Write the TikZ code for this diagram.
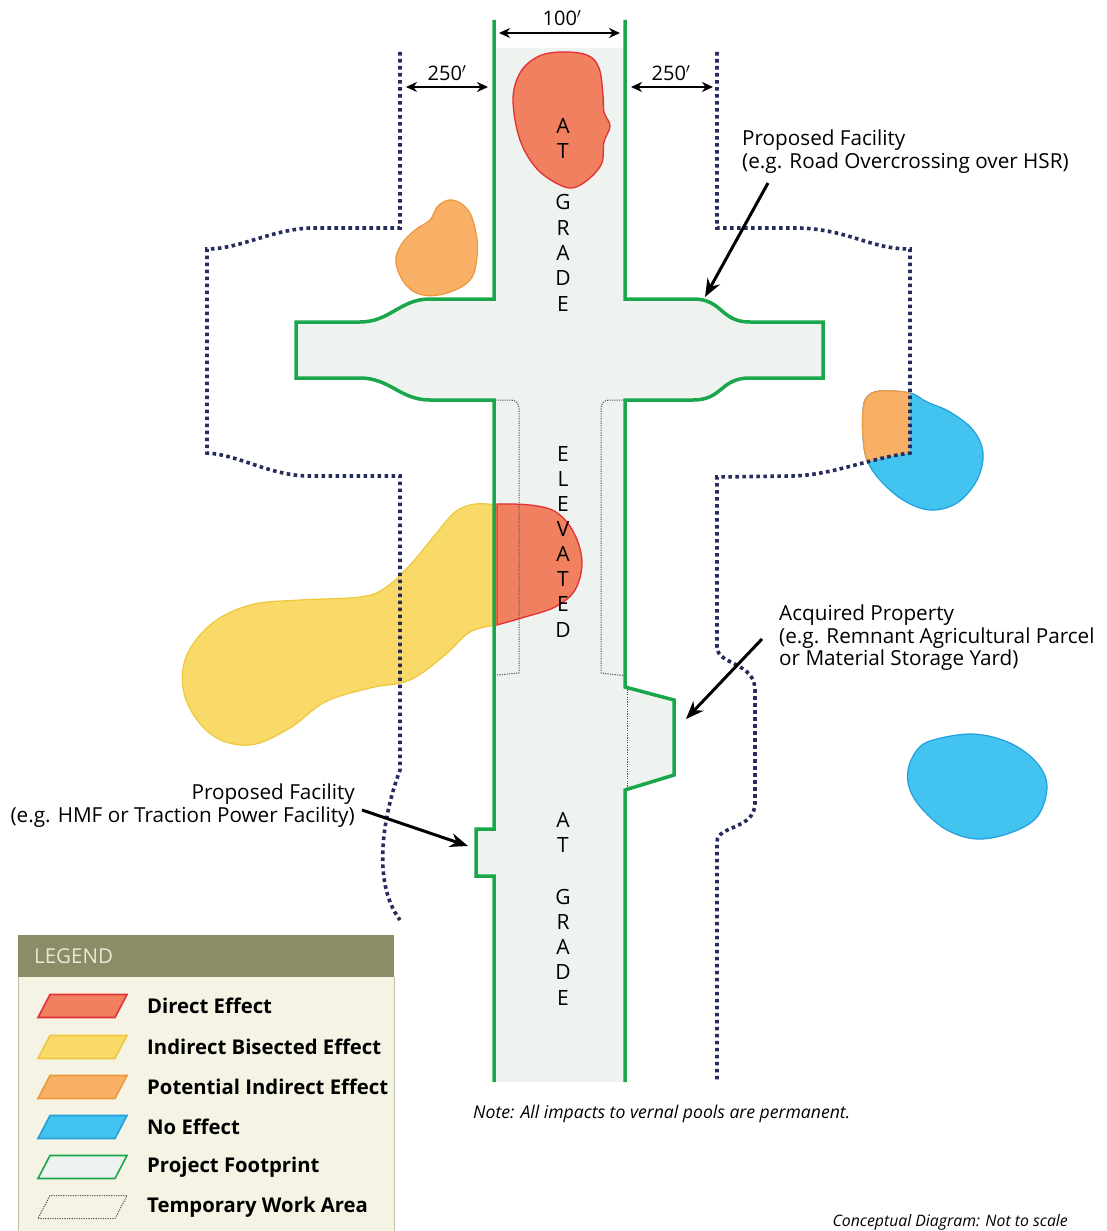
\documentclass[tikz,border=0pt]{standalone}
\usepackage{fontspec}
\setmainfont{Open Sans}
\usetikzlibrary{arrows.meta}
\definecolor{fp}{RGB}{238,243,239}
\definecolor{grn}{RGB}{26,166,74}
\definecolor{navy}{RGB}{38,45,92}
\definecolor{redF}{RGB}{240,128,96}
\definecolor{redS}{RGB}{228,48,55}
\definecolor{yelF}{RGB}{249,217,104}
\definecolor{yelS}{RGB}{238,200,60}
\definecolor{orF}{RGB}{247,176,102}
\definecolor{orS}{RGB}{236,152,60}
\definecolor{bluF}{RGB}{66,195,240}
\definecolor{bluS}{RGB}{35,160,220}
\definecolor{legH}{RGB}{139,140,104}
\definecolor{legB}{RGB}{244,243,228}
\definecolor{legT}{RGB}{233,233,214}
\definecolor{tmp}{RGB}{85,85,85}
\begin{document}
\begin{tikzpicture}[x=1pt,y=-1pt,
  greenline/.style={draw=grn,line width=3.5pt,line join=miter},
  boundary/.style={draw=navy,line width=3.6pt,dash pattern=on 3.6pt off 3.4pt},
  temp/.style={draw=tmp,line width=1pt,dash pattern=on 1.2pt off 1.2pt},
  pointer/.style={draw=black,line width=3pt,-{Stealth[length=18pt,width=14pt]}},
  dimarrow/.style={draw=black,line width=2pt,{Stealth[length=11pt,width=10pt]}-{Stealth[length=11pt,width=10pt]}},
  lbl/.style={font=\fontsize{20.7}{22.5}\selectfont,inner sep=0pt},
  vl/.style={font=\fontsize{21}{21}\selectfont,inner sep=0pt,anchor=center},
  dimlbl/.style={font=\fontsize{20}{20}\selectfont,inner sep=0pt,anchor=center},
  legtxt/.style={font=\bfseries\fontsize{20.3}{22}\selectfont,anchor=west,inner sep=0pt},
  swatch/.style={line width=1.6pt},
]
\useasboundingbox[fill=white] (0,0) rectangle (1106,1231);

% project footprint fill
\fill[fp] (494,48) -- (625,48) -- (625,299) -- (693,299) .. controls (723,299) and (720,322) .. (750,322)
  -- (823,322) -- (823,378) -- (750,378) .. controls (720,378) and (723,400) .. (693,400)
  -- (625,400) -- (625,687) -- (674,700) -- (674,775) -- (625,790) -- (625,1082) -- (494,1082)
  -- (494,876) -- (476,876) -- (476,829) -- (494,829) -- (494,400) -- (430,400)
  .. controls (400,400) and (390,378) .. (360,378) -- (296,378) -- (296,322) -- (360,322)
  .. controls (390,322) and (400,299) .. (430,299) -- (494,299) -- cycle;

% effect areas
\filldraw[fill=redF,draw=redS,line width=1.3pt] plot[smooth cycle,tension=0.6] coordinates {
  (560,52) (587,55) (599,68) (603,95) (604,112) (610,126) (604,142) (601,165) (582,184) (565,187)
  (538,170) (520,140) (513,100) (520,73) (537,57)};
\filldraw[fill=orF,draw=orS,line width=1.2pt] plot[smooth cycle,tension=0.65] coordinates {
  (452,200) (468,210) (476,233) (477,257) (470,280) (447,293) (423,295) (406,285) (396,263)
  (401,245) (415,230) (430,220) (438,206)};
\filldraw[fill=bluF,draw=bluS,line width=1.2pt] plot[smooth cycle,tension=0.6] coordinates {
  (863,410) (867,397) (880,391) (910,393) (927,402) (950,412) (973,430) (983,453) (977,480)
  (957,503) (930,510) (903,500) (880,480) (867,460) (863,437)};
\begin{scope}
  \clip (0,0) -- (910,0) -- (910,453) .. controls (870,458) and (830,476) .. (790,476) -- (0,477) -- cycle;
  \filldraw[fill=orF,draw=orS,line width=1.2pt] plot[smooth cycle,tension=0.6] coordinates {
    (863,410) (867,397) (880,391) (910,393) (927,402) (950,412) (973,430) (983,453) (977,480)
    (957,503) (930,510) (903,500) (880,480) (867,460) (863,437)};
\end{scope}
\filldraw[fill=yelF,draw=yelS,line width=1.2pt] plot[smooth,tension=0.6] coordinates {
  (497,625) (470,632) (445,655) (410,680) (370,688) (325,702) (290,728) (250,745) (212,735)
  (186,700) (185,660) (210,625) (250,605) (300,600) (360,597) (385,588) (410,565) (435,535)
  (455,512) (475,504) (497,505)} -- cycle;
\filldraw[fill=redF,draw=redS,line width=1.3pt] plot[smooth,tension=0.6] coordinates {
  (497,504) (530,505) (556,512) (574,533) (582,562) (575,590) (555,607) (525,617) (497,625)} -- cycle;
\filldraw[fill=bluF,draw=bluS,line width=1.2pt] plot[smooth cycle,tension=0.6] coordinates {
  (908,770) (917,750) (933,740) (973,734) (1010,743) (1037,763) (1047,787) (1037,817)
  (1010,833) (977,839) (947,830) (923,810) (910,790)};

% temporary work areas
\draw[temp] (495,400) [rounded corners=8pt] -- (519,400) -- (519,520) [sharp corners] -- (519,673) -- (497,675);
\draw[temp] (625,400) [rounded corners=8pt] -- (601,400) -- (601,520) [sharp corners] -- (601,673) -- (627,676);
\draw[temp] (627,687) -- (627,790);

% footprint outline
\draw[greenline] (494,20) -- (494,299) -- (430,299) .. controls (400,299) and (390,322) .. (360,322)
  -- (296,322) -- (296,378) -- (360,378) .. controls (390,378) and (400,400) .. (430,400)
  -- (494,400) -- (494,829) -- (476,829) -- (476,876) -- (494,876) -- (494,1082);
\draw[greenline] (625,20) -- (625,299) -- (693,299) .. controls (723,299) and (720,322) .. (750,322)
  -- (823,322) -- (823,378) -- (750,378) .. controls (720,378) and (723,400) .. (693,400)
  -- (625,400) -- (625,687) -- (674,700) -- (674,775) -- (625,790) -- (625,1082);

% 250 ft boundaries
\draw[boundary] (400,52) -- (400,228) -- (310,228) .. controls (270,230) and (240,249) .. (207,249)
  -- (207,453) .. controls (240,455) and (270,476) .. (310,476) -- (400,476) -- (400,770)
  .. controls (385,810) and (370,880) .. (400,920);
\draw[boundary] (717,52) -- (717,228) -- (800,228) .. controls (850,230) and (870,249) .. (910,249)
  -- (910,453) .. controls (870,458) and (830,476) .. (790,476) -- (717,477) -- (717,647)
  .. controls (717,665) and (755,662) .. (755,690) -- (755,803) .. controls (755,830) and (717,825) .. (717,842)
  -- (717,1082);

% dimension arrows
\coordinate (dwa) at (499,33); \coordinate (dwb) at (620,33);
\coordinate (dla) at (406,87); \coordinate (dlb) at (488,87);
\coordinate (dra) at (631,87); \coordinate (drb) at (713,87);
\draw[dimarrow] (dwa) -- (dwb);
\draw[dimarrow] (dla) -- (dlb);
\draw[dimarrow] (dra) -- (drb);
\node[dimlbl] (d100) at (562,18) {100$'$};
\node[dimlbl] (d250l) at (447,73) {250$'$};
\node[dimlbl] (d250r) at (671,73) {250$'$};

% vertical corridor labels
\foreach \ch/\yy [count=\i] in {A/126,T/151,G/202,R/228,A/253,D/278,E/304,
  E/454,L/479,E/504,V/529,A/554,T/579,E/604,D/630,
  A/820,T/845,G/897,R/922,A/947,D/972,E/998}
  \node[vl] (v\i) at (563,\yy) {\ch};

% callouts
\node[lbl,anchor=north west,align=left] (oc) at (742,130) {Proposed Facility\\(e.g. Road Overcrossing over HSR)};
\coordinate (ocS) at (768,183); \coordinate (ocT) at (705,297);
\draw[pointer] (ocS) -- (ocT);

\node[lbl,anchor=north west,align=left] (ap) at (779,605) {Acquired Property\\(e.g. Remnant Agricultural Parcel\\or Material Storage Yard)};
\coordinate (apS) at (762,639); \coordinate (apT) at (686,719);
\draw[pointer] (apS) -- (apT);

\node[lbl,anchor=north east,align=right] (hmf) at (355,784) {Proposed Facility\\(e.g. HMF or Traction Power Facility)};
\coordinate (hmS) at (362,810); \coordinate (hmT) at (468,846);
\draw[pointer] (hmS) -- (hmT);

% notes
\node[font=\itshape\fontsize{17.6}{20}\selectfont,anchor=west,inner sep=0pt] (note) at (473,1114) {Note: All impacts to vernal pools are permanent.};
\node[font=\itshape\fontsize{15.8}{16}\selectfont,anchor=east,inner sep=0pt] (concept) at (1068,1222) {Conceptual Diagram: Not to scale};

% legend
\fill[legB] (18,976) rectangle (394,1231);
\fill[legH] (18,935) rectangle (394,977);
\draw[draw=legH!55,line width=0.8pt] (18,977) -- (18,1231) (394,977) -- (394,1231);
\node[font=\fontsize{20.5}{20}\selectfont,text=legT,anchor=west,inner sep=0pt] (legend) at (34,956) {LEGEND};
\foreach \yy/\fc/\dc/\txt [count=\i] in {
  1006/redF/redS/Direct Effect,
  1047/yelF/yelS/Indirect Bisected Effect,
  1087/orF/orS/Potential Indirect Effect,
  1127/bluF/bluS/No Effect,
  1167/fp/grn/Project Footprint}{
  \filldraw[swatch,fill=\fc,draw=\dc] (38,\yy+11.5) -- (115,\yy+11.5) -- (127,\yy-11.5) -- (50,\yy-11.5) -- cycle;
  \node[legtxt] (lt\i) at (147,\yy) {\txt};
}
\draw[temp] (38,1218.5) -- (115,1218.5) -- (127,1195.5) -- (50,1195.5) -- cycle;
\node[legtxt] (lt6) at (147,1207) {Temporary Work Area};
\end{tikzpicture}
\end{document}
